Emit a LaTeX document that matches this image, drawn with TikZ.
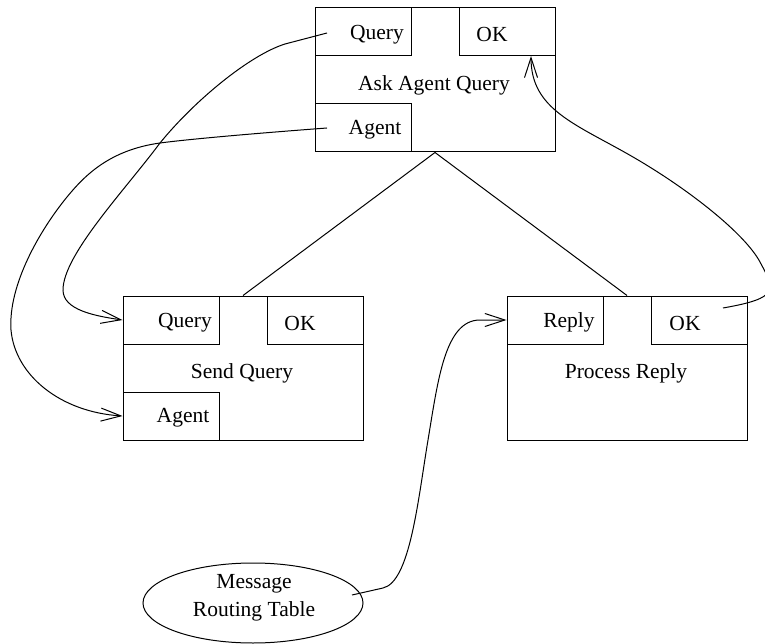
\documentclass[tikz,border=0pt]{standalone}
\usepackage{fontspec}
\setmainfont{Liberation Serif}
\usetikzlibrary{arrows.meta,shapes.geometric}
\begin{document}
\begin{tikzpicture}[x=1pt,y=-1pt,line width=1pt,
  box/.style={draw,rectangle,minimum width=240pt,minimum height=144pt,inner sep=0pt},
  port/.style={draw,rectangle,minimum width=96pt,minimum height=48pt,inner sep=0pt},
  lbl/.style={font=\fontsize{21.5}{25}\selectfont,inner sep=0pt,anchor=base},
  flow/.style={-{Straight Barb[length=20pt,width=13pt]}},
  store/.style={draw,ellipse,minimum width=220pt,minimum height=80pt,inner sep=0pt},
]
\useasboundingbox (0,0) rectangle (765,644);

% Ask Agent Query
\node[box] (aaq) at (435,80) {};
\node[port,anchor=north west] (aaqQ) at (aaq.north west) {};
\node[port,anchor=north east] (aaqOK) at (aaq.north east) {};
\node[port,anchor=south west] (aaqA) at (aaq.south west) {};
\node[lbl] (aaqQt) at (377,39.5) {Query};
\node[lbl] (aaqOKt) at (492,41.7) {OK};
\node[lbl] (aaqt) at (434,90.7) {Ask Agent Query};
\node[lbl] (aaqAt) at (375,134.3) {Agent};

% Send Query
\node[box] (sq) at (243,368) {};
\node[port,anchor=north west] (sqQ) at (sq.north west) {};
\node[port,anchor=north east] (sqOK) at (sq.north east) {};
\node[port,anchor=south west] (sqA) at (sq.south west) {};
\node[lbl] (sqQt) at (185,327.3) {Query};
\node[lbl] (sqOKt) at (300,330) {OK};
\node[lbl] (sqt) at (242,378.3) {Send Query};
\node[lbl] (sqAt) at (183,422.7) {Agent};

% Process Reply
\node[box] (pr) at (627,368) {};
\node[port,anchor=north west] (prR) at (pr.north west) {};
\node[port,anchor=north east] (prOK) at (pr.north east) {};
\node[lbl] (prRt) at (569,327.7) {Reply};
\node[lbl] (prOKt) at (685,330) {OK};
\node[lbl] (prt) at (626,378.3) {Process Reply};

% Message Routing Table
\node[store] (mrt) at (253,603) {};
\node[lbl] (mrt1) at (254,588.3) {Message};
\node[lbl] (mrt2) at (254,616.7) {Routing Table};

% tree lines
\draw (aaq.south) -- (sq.north);
\draw (aaq.south) -- (pr.north);

% flow start / end points
\coordinate (q0) at (327,33);
\coordinate (a0) at (327,128);
\coordinate (ok0) at (723,308);
\coordinate (okin) at (531,56);
\coordinate (m0) at (352,595);

\draw[flow] (q0) -- (285,44)
  .. controls (250,55) and (195,100) .. (160,143)
  .. controls (125,190) and (63,255) .. (63,290)
  .. controls (63,310) and (95,316) .. (sqQ.west);
\draw[flow] (a0) .. controls (260,133) and (190,139) .. (160,143)
  .. controls (110,150) and (85,175) .. (67,197)
  .. controls (40,230) and (8,285) .. (11,330)
  .. controls (15,375) and (60,412) .. (sqA.west);
\draw[flow] (ok0) .. controls (780,298) and (775,290) .. (760,262)
  .. controls (745,234) and (690,190) .. (633,157)
  .. controls (576,124) and (531,110) .. (okin);
\draw[flow] (m0) -- (383,588)
  .. controls (410,582) and (418,500) .. (428,440)
  .. controls (438,380) and (445,320) .. (480,320) -- (prR.west);
\end{tikzpicture}
\end{document}
